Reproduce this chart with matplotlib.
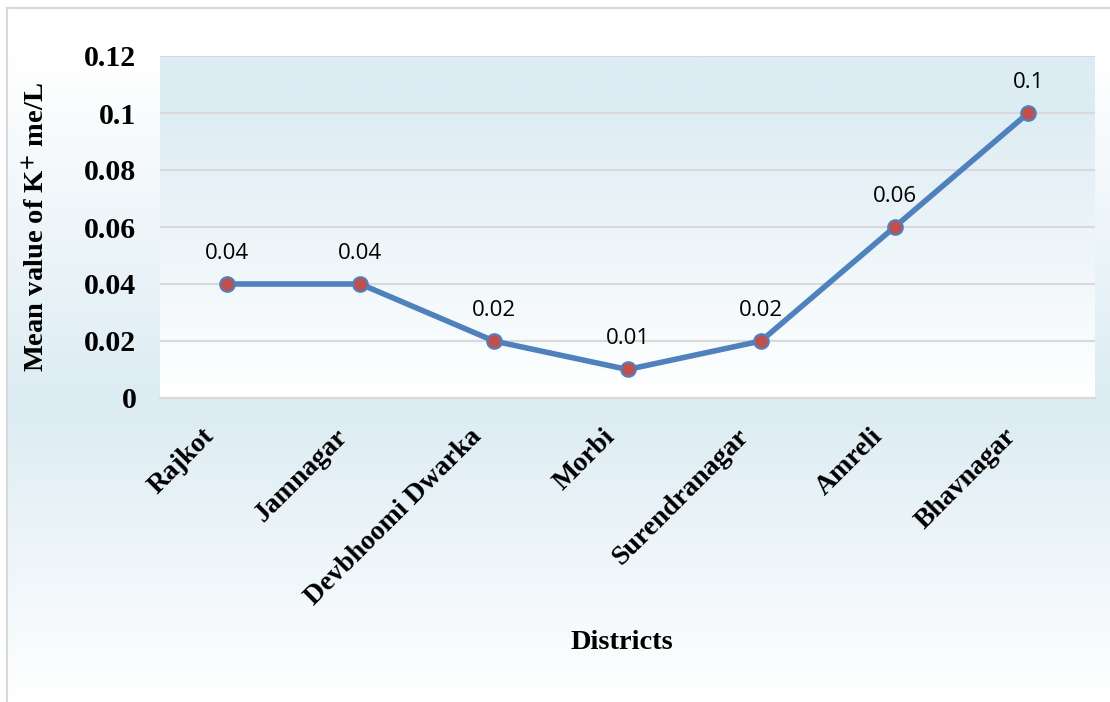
import numpy as np
import matplotlib
matplotlib.use("Agg")
import matplotlib.pyplot as plt
from matplotlib.colors import to_rgb
from matplotlib.lines import Line2D
from matplotlib.transforms import ScaledTranslation

plt.rcParams["font.family"] = ["Liberation Serif", "DejaVu Serif"]
plt.rcParams["font.weight"] = "bold"
plt.rcParams["axes.labelweight"] = "bold"
plt.rcParams["mathtext.fontset"] = "stix"

districts = ["Rajkot", "Jamnagar", "Devbhoomi Dwarka", "Morbi",
             "Surendranagar", "Amreli", "Bhavnagar"]
k_values = [0.04, 0.04, 0.02, 0.01, 0.02, 0.06, 0.1]
k_labels = ["0.04", "0.04", "0.02", "0.01", "0.02", "0.06", "0.1"]
y_ticks = [0, 0.02, 0.04, 0.06, 0.08, 0.1, 0.12]
y_tick_labels = ["0", "0.02", "0.04", "0.06", "0.08", "0.1", "0.12"]

BLUE_BG = "#dcecf3"
LINE_BLUE = "#4f81bd"
MARKER_RED = "#c0504d"
GRID = "#d9d9d9"


def gradient(stops, colors, n=400):
    # vertical colour ramp, row 0 is the top
    t = np.linspace(0, 1, n)
    rgb = np.array([to_rgb(c) for c in colors])
    img = np.stack([np.interp(t, stops, rgb[:, i]) for i in range(3)], axis=-1)
    return img[:, None, :]


fig = plt.figure(figsize=(11.1, 7.02), dpi=100)
fig.patch.set_facecolor("white")

# chart-area background
bg = fig.add_axes([0, 0, 1, 1], zorder=-10)
bg.axis("off")
bg.set_xlim(0, 1)
bg.set_ylim(0, 1)
fx0, fy1 = 7 / 1110, 1 - 8 / 702
bg.imshow(gradient([0, 0.07, 0.57, 1], ["white", "white", BLUE_BG, "white"]),
          extent=[fx0, 1, 0, fy1], aspect="auto", interpolation="bilinear")
bg.add_line(Line2D([fx0, fx0], [0, fy1], color=GRID, lw=1.5))
bg.add_line(Line2D([fx0, 1], [fy1, fy1], color=GRID, lw=1.5))

ax = fig.add_axes([160 / 1110, 1 - 398 / 702, 935 / 1110, 342 / 702])
ax.set_facecolor("none")
x = np.arange(len(districts))
ax.set_xlim(-0.5, len(districts) - 0.5)
ax.set_ylim(0, 0.12)
ax.imshow(gradient([0, 0.12, 1], [BLUE_BG, BLUE_BG, "white"]),
          extent=[-0.5, len(districts) - 0.5, 0, 0.12], aspect="auto",
          interpolation="bilinear", zorder=0)

ax.set_yticks(y_ticks)
ax.set_yticklabels(y_tick_labels)
ax.yaxis.grid(True, color=GRID, lw=1.5, zorder=0.5)
ax.set_axisbelow(True)
for side in ["left", "right", "top"]:
    ax.spines[side].set_visible(False)
ax.spines["bottom"].set_color(GRID)
ax.spines["bottom"].set_linewidth(1.5)

ax.plot(x, k_values, color=LINE_BLUE, lw=4, marker="o", markersize=10.5,
        markerfacecolor=MARKER_RED, markeredgecolor=LINE_BLUE,
        markeredgewidth=1.5, zorder=3)

for xi, v, lab in zip(x, k_values, k_labels):
    ax.annotate(lab, (xi, v), xytext=(0, 18), textcoords="offset points",
                ha="center", va="baseline", fontsize=16, fontweight="normal",
                family="Open Sans", color="black", zorder=4)

ax.tick_params(axis="y", length=0, labelsize=21.5, pad=17)
ax.tick_params(axis="x", length=0, labelsize=20, pad=25)
ax.set_xticks(x)
ax.set_xticklabels(districts, rotation=45, ha="right", va="center",
                   rotation_mode="anchor")
shift = ScaledTranslation(-16 / 100, 0, fig.dpi_scale_trans)
for t in ax.get_xticklabels():
    t.set_transform(t.get_transform() + shift)

ax.set_ylabel(r"Mean value of K$^{\mathbf{+}}$ me/L", fontsize=20.5,
              fontweight="bold", va="center")
ax.yaxis.set_label_coords((38 - 160) / 935, 0.5)
ax.set_xlabel("Districts", fontsize=20.5, fontweight="bold", va="center")
ax.xaxis.set_label_coords((622 - 160) / 935, (398 - 643) / 342)

fig.savefig("out.png", dpi=100)
